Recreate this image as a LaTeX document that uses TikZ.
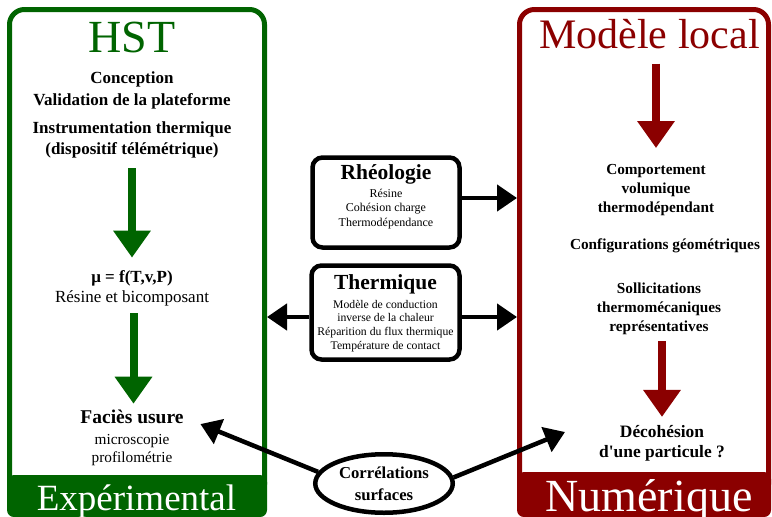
\documentclass[tikz,border=0pt]{standalone}
\usepackage{fontspec}
\setmainfont{Liberation Serif}
\usepackage{xcolor}
\usetikzlibrary{arrows.meta,shapes.geometric}

\definecolor{expgreen}{RGB}{0,100,0}
\definecolor{numred}{RGB}{139,0,0}
\newcommand{\fsz}[2]{\fontsize{#1}{#2}\selectfont}

\begin{document}
\begin{tikzpicture}[x=1pt, y=-1pt,
    txt/.style={inner sep=0pt, align=center},
    frame/.style={draw, line width=5pt, rounded corners=15pt, inner sep=0pt},
    band/.style={rounded corners=7pt, inner sep=0pt},
    midbox/.style={draw, line width=4.5pt, rounded corners=10pt, inner sep=0pt,
        minimum width=147pt},
    bigarrow/.style={line width=8pt, -{Triangle[width=36pt,length=27pt]}},
    linkarrow/.style={line width=4.5pt, -{Triangle[width=26pt,length=20pt]}}]
    \useasboundingbox (0,0) rectangle (772,517);

    % Frames and bottom bands
    \node[frame, draw=expgreen, minimum width=255pt, minimum height=490pt] (expframe) at (137,254.5) {};
    \node[frame, draw=numred, minimum width=249pt, minimum height=490pt] (numframe) at (644,254.5) {};
    \node[band, fill=expgreen, minimum width=260pt, minimum height=42pt] (expband) at (137,496) {};
    \node[band, fill=numred, minimum width=254pt, minimum height=45pt] (numband) at (644,494.5) {};
    \node[anchor=base, inner sep=0pt, text=white, font=\fsz{37}{37}] (explabel) at (136.5,510) {Expérimental};
    \node[anchor=base, inner sep=0pt, text=white, font=\fsz{46}{46}] (numlabel) at (649,511) {Numérique};

    % Experimental side
    \node[anchor=base, inner sep=0pt, text=expgreen, font=\fsz{46}{46}] (hst) at (132,52) {HST};
    \node[txt, font=\bfseries\fsz{17}{22}] (concept) at (132,90) {Conception\\Validation de la plateforme};
    \node[txt, font=\bfseries\fsz{17}{21}] (instr) at (132,139.5) {Instrumentation thermique\\(dispositif télémétrique)};
    \node[txt, font=\fsz{17}{20}] (mu) at (132,288) {\textbf{μ = f(T,v,P)}\\Résine et bicomposant};
    \node[txt, font=\bfseries\fsz{19.5}{20}] (facies) at (132,417.3) {Faciès usure};
    \node[txt, font=\fsz{15.3}{18}] (faciessub) at (132,450.4) {microscopie\\profilométrie};

    \draw[bigarrow, expgreen, shorten <=10.3pt, shorten >=12.4pt] (instr.south) -- (mu.north);
    \draw[bigarrow, expgreen, shorten <=7.3pt, shorten >=6.5pt] ([xshift=1.5pt]mu.south) -- ([xshift=1.5pt]facies.north);

    % Numerical side
    \node[anchor=base, inner sep=0pt, text=numred, font=\fsz{42}{42}] (modele) at (649.5,48) {Modèle local};
    \node[txt, font=\bfseries\fsz{15.3}{19}] (comport) at (656,190.5) {Comportement\\volumique\\thermodépendant};
    \node[txt, font=\bfseries\fsz{15.3}{19}] (config) at (665,246) {Configurations géométriques};
    \node[txt, font=\bfseries\fsz{15.3}{19}] (sollic) at (659,308.5) {Sollicitations\\thermomécaniques\\représentatives};
    \node[txt, font=\bfseries\fsz{17.4}{20}] (decoh) at (662,443) {Décohésion\\d\textquotesingle une particule ?};

    \draw[bigarrow, numred, shorten <=15pt, shorten >=16.6pt] (comport.north |- modele.south) -- (comport.north);
    \draw[bigarrow, numred, shorten <=6.6pt, shorten >=8pt] (decoh.north |- sollic.south) -- (decoh.north);

    % Rheology and thermal boxes
    \node[midbox, minimum height=90pt] (rheo) at (386,202.5) {};
    \node[anchor=base, inner sep=0pt, font=\bfseries\fsz{21.5}{22}] (rheotitle) at (386,179) {Rhéologie};
    \node[txt, font=\fsz{12}{14.5}] (rheobody) at (386,208.7) {Résine\\Cohésion charge\\Thermodépendance};

    \node[midbox, minimum width=148pt, minimum height=94pt] (therm) at (385.5,312.5) {};
    \node[anchor=base, inner sep=0pt, font=\bfseries\fsz{21.5}{22}] (thermtitle) at (385.5,289) {Thermique};
    \node[txt, font=\fsz{11.7}{13.7}] (thermbody) at (385.5,325.8) {Modèle de conduction\\inverse de la chaleur\\Réparition du flux thermique\\Température de contact};

    \coordinate (rheoout) at ([yshift=4.5pt]rheo.east);
    \coordinate (thermout) at ([yshift=-4.5pt]therm.east);
    \coordinate (thermin) at ([yshift=-4.5pt]therm.west);
    \draw[linkarrow] (rheoout) -- (rheoout -| numframe.west);
    \draw[linkarrow] (thermout) -- (thermout -| numframe.west);
    \draw[linkarrow] (thermin) -- (thermin -| expframe.east);

    % Surface correlations
    \node[ellipse, draw, line width=4.5pt, fill=white, inner sep=0pt, minimum width=137.5pt,
        minimum height=58.5pt, align=center, font=\bfseries\fsz{16.7}{22}] (corr) at (384,483.5)
        {Corrélations\\surfaces};
    \coordinate (numtip) at (565,432);
    \draw[linkarrow, shorten >=18pt] (corr.170) -- (facies.east);
    \draw[linkarrow] (corr.5) -- (numtip);
\end{tikzpicture}
\end{document}
